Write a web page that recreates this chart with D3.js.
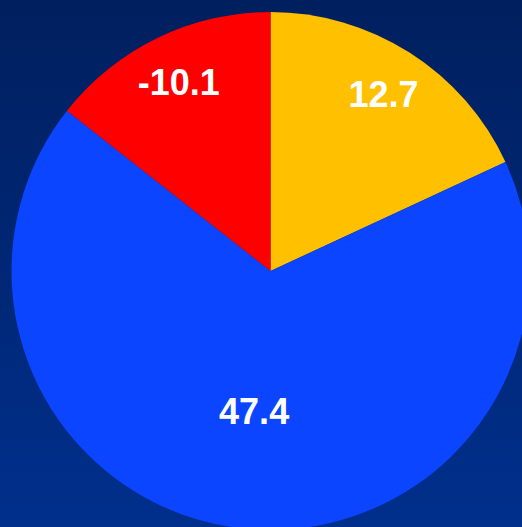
<!DOCTYPE html>
<html><head><meta charset="utf-8">
<script src="https://cdn.jsdelivr.net/npm/d3@7"></script>
<style>html,body{margin:0;padding:0;overflow:hidden;}</style>
</head><body>
<script>
const categories = ["A", "B", "C"];
const values = [12.7, 47.4, -10.1];
const colors = ["#FFC000", "#0B45FF", "#FF0000"];

const W = 522, H = 527;
const svg = d3.select("body").append("svg").attr("width", W).attr("height", H);
const defs = svg.append("defs");
const grad = defs.append("linearGradient").attr("id", "bg").attr("x1", 0).attr("y1", 0).attr("x2", 0).attr("y2", 1);
grad.append("stop").attr("offset", "0%").attr("stop-color", "#001f5e");
grad.append("stop").attr("offset", "100%").attr("stop-color", "#002f8c");
svg.append("rect").attr("width", W).attr("height", H).attr("fill", "url(#bg)");

const cx = 270.5, cy = 271, r = 259;
const data = categories.map((c, i) => ({cat: c, value: values[i], color: colors[i]}));
const pie = d3.pie().sort(null).value(d => Math.abs(d.value));
const arcs = pie(data);
const arc = d3.arc().innerRadius(0).outerRadius(r);
const g = svg.append("g").attr("transform", `translate(${cx},${cy})`);
g.selectAll("path").data(arcs).join("path")
  .attr("d", arc).attr("fill", d => d.data.color);

g.selectAll("text").data(arcs).join("text")
  .attr("transform", d => {
    const span = d.endAngle - d.startAngle;
    const lr = r * (span > Math.PI ? 0.545 : 0.81);
    const a = (d.startAngle + d.endAngle) / 2;
    return `translate(${lr * Math.sin(a)},${-lr * Math.cos(a)})`;
  })
  .attr("text-anchor", "middle").attr("dy", "0.36em")
  .attr("fill", "#ffffff")
  .style("font-family", "'Liberation Sans', Arial, sans-serif")
  .style("font-weight", "bold").style("font-size", "36px")
  .text(d => d.data.value.toFixed(1));
</script>
</body></html>
